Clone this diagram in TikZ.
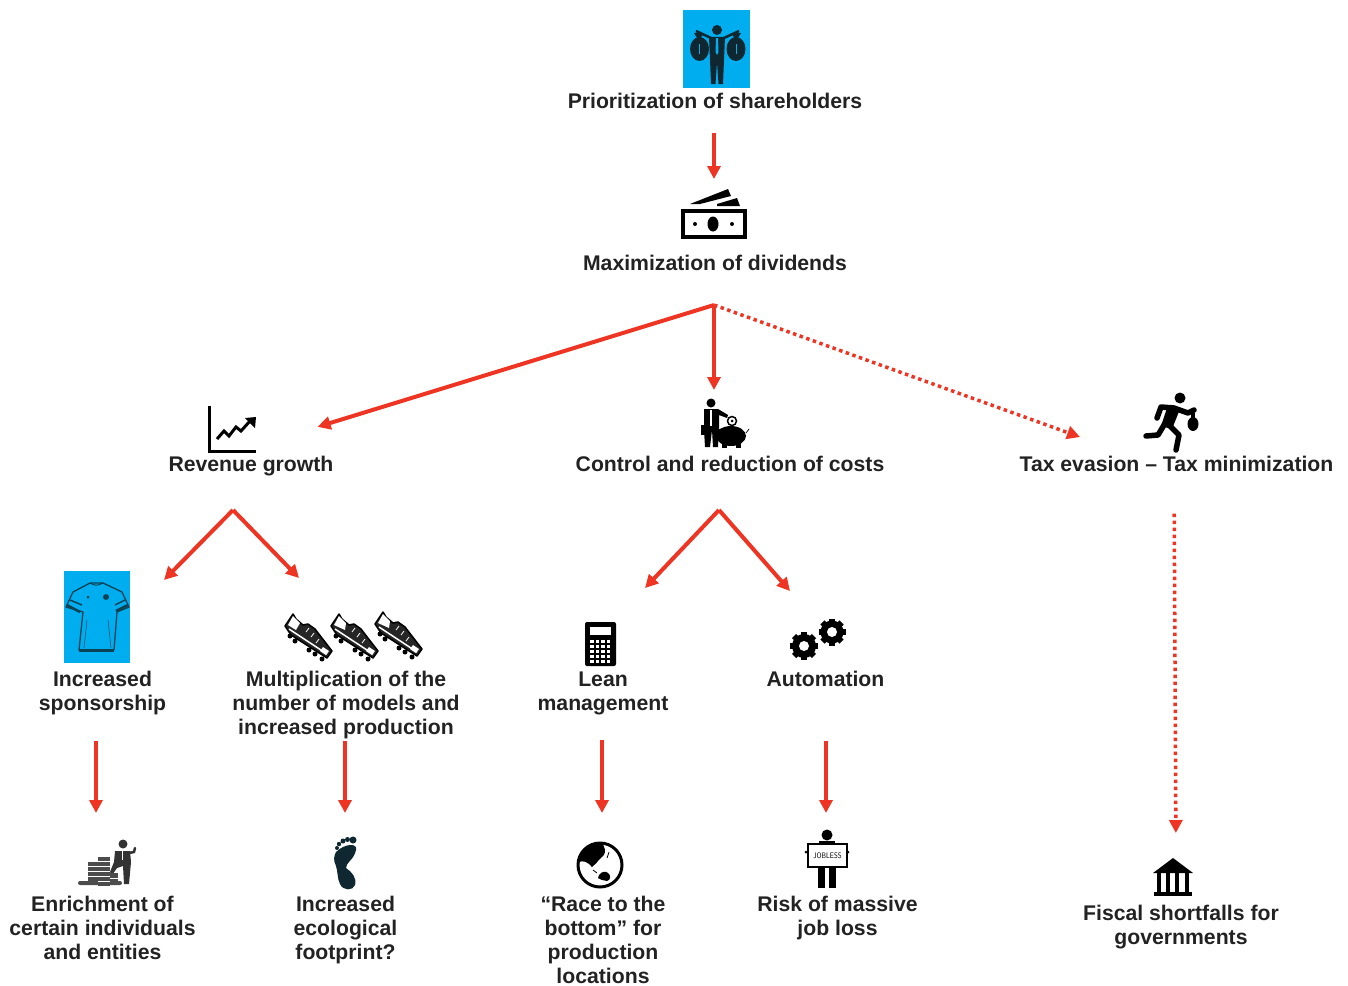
\documentclass[tikz,border=0pt]{standalone}
\usepackage{fontspec}
\setmainfont{Liberation Sans}
\usetikzlibrary{arrows.meta}
\definecolor{arrowred}{HTML}{EE3524}
\definecolor{skyblue}{HTML}{00AEEF}
\definecolor{labelgray}{HTML}{222222}
\definecolor{figdark}{HTML}{0E2730}
\tikzset{>={Triangle[width=13pt,length=13pt]},
	redline/.style={->,color=arrowred,line width=4pt},
	reddots/.style={->,color=arrowred,line width=3.5pt,dash pattern=on 3.5pt off 3.5pt},
	lbl/.style={anchor=north,align=center,inner sep=0pt,outer sep=0pt,text=labelgray,font=\fontsize{21.2}{24}\selectfont\bfseries},
	iconbox/.style={inner sep=0pt,outer sep=0pt}}

\begin{document}
\begin{tikzpicture}[x=1pt,y=-1pt]
	\useasboundingbox (0,0) rectangle (1348,985);

	\node[iconbox,fill=skyblue,minimum width=67pt,minimum height=78pt] (shareicon) at (716.5,49) {};
	\node[iconbox,minimum width=66pt,minimum height=50pt] (moneyicon) at (714,214) {};
	\node[iconbox,minimum width=48pt,minimum height=47pt] (charticon) at (232.5,429.5) {};
	\node[iconbox,minimum width=50pt,minimum height=50pt] (costicon) at (725,423) {};
	\node[iconbox,minimum width=56pt,minimum height=60pt] (runicon) at (1171,422) {};
	\node[iconbox,fill=skyblue,minimum width=66pt,minimum height=92pt] (shirticon) at (97,617) {};
	\node[iconbox,minimum width=137pt,minimum height=48pt] (booticon) at (352,636) {};
	\node[iconbox,minimum width=31pt,minimum height=44pt] (calcicon) at (600.5,644) {};
	\node[iconbox,minimum width=58pt,minimum height=46pt] (gearicon) at (818,639) {};
	\node[iconbox,minimum width=58pt,minimum height=48pt] (coinicon) at (107,862) {};
	\node[iconbox,minimum width=26pt,minimum height=54pt] (footicon) at (345,864) {};
	\node[iconbox,minimum width=48pt,minimum height=48pt] (globeicon) at (600,865) {};
	\node[iconbox,minimum width=40pt,minimum height=60pt] (joblessicon) at (827,859) {};
	\node[iconbox,minimum width=40pt,minimum height=38pt] (bankicon) at (1173,877) {};

	\node[lbl] (shareholders) at (715,93) {Prioritization of shareholders};
	\node[lbl] (dividends) at (715,255) {Maximization of dividends};
	\node[lbl] (revenue) at (251,456) {Revenue growth};
	\node[lbl] (control) at (730,456) {Control and reduction of costs};
	\node[lbl] (tax) at (1176.5,456) {Tax evasion -- Tax minimization};
	\node[lbl] (sponsorship) at (102.5,671) {Increased\\sponsorship};
	\node[lbl] (models) at (346,671) {Multiplication of the\\number of models and\\increased production};
	\node[lbl] (lean) at (603,672) {Lean\\management};
	\node[lbl] (automation) at (825.5,671) {Automation};
	\node[lbl] (enrichment) at (102.5,896) {Enrichment of\\certain individuals\\and entities};
	\node[lbl] (ecological) at (345.5,896) {Increased\\ecological\\footprint?};
	\node[lbl] (race) at (603,896) {“Race to the\\bottom” for\\production\\locations};
	\node[lbl] (jobloss) at (837.5,896) {Risk of massive\\job loss};
	\node[lbl] (fiscal) at (1181,905) {Fiscal shortfalls for\\governments};

	\coordinate (forktop) at (714,305);
	\coordinate (forkrevenue) at (233,510);
	\coordinate (forkcosts) at (719,510);
	\coordinate (taxtip) at (1080,437);
	\coordinate (shirttip) at (164,580);
	\coordinate (boottip) at (299,578);
	\coordinate (calctip) at (645,588);
	\coordinate (geartip) at (790,591);

	\draw[redline,shorten <=24pt,shorten >=10pt] (shareholders.south -| moneyicon.north) -- (moneyicon.north);
	\draw[redline,shorten >=89pt] (forktop) -- (charticon.south);
	\draw[redline,shorten >=8pt] (forktop) -- ([xshift=-11pt]costicon.north);
	\draw[reddots] (forktop) -- (taxtip);
	\draw[redline] (forkrevenue) -- (shirttip);
	\draw[redline] (forkrevenue) -- (boottip);
	\draw[redline] (forkcosts) -- (calctip);
	\draw[redline] (forkcosts) -- (geartip);
	\draw[redline,shorten <=26pt,shorten >=25pt] ([xshift=-6.5pt]sponsorship.south) -- ([xshift=-11pt]coinicon.north);
	\draw[redline,shorten <=2pt,shorten >=24pt] ([xshift=-1pt]models.south) -- (footicon.north);
	\draw[redline,shorten <=25pt,shorten >=28pt] ([xshift=-1pt]lean.south) -- ([xshift=2pt]globeicon.north);
	\draw[redline,shorten <=54pt,shorten >=16pt] ([xshift=.5pt]automation.south) -- ([xshift=-1pt]joblessicon.north);
	\draw[reddots,shorten <=42pt,shorten >=25pt] ([xshift=-2.5pt]tax.south) -- ([xshift=3pt]bankicon.north);

	% shareholder
	\begin{scope}[color=figdark]
		\fill (717,30) circle [radius=5];
		\draw[line width=2.5pt] (696,31)--(711,38)--(724,38)--(739,31);
		\fill (699.5,49) ellipse [x radius=9.5, y radius=12];
		\fill (736,49) ellipse [x radius=9.5, y radius=12];
		\fill (694,33)--(703,33)--(701,38)--(697,38)--cycle;
		\fill (732,33)--(741,33)--(738,38)--(734,38)--cycle;
		\fill (709,37)--(725,37)--(724,60)--(723,84)--(718.5,84)--(717,62)--(715.5,84)--(711,84)--(710,60)--cycle;
		\fill[skyblue] (716,38)--(718,38)--(718.5,52)--(717,55)--(715.5,52)--cycle;
		\draw[skyblue,line width=1pt] (699.5,44)--(699.5,54);
		\draw[skyblue,line width=1pt] (736,44)--(736,54);
	\end{scope}

	% banknotes
	\draw[line width=4pt] (683,210.5) rectangle (745,237);
	\fill (713,224) ellipse [x radius=5.5, y radius=7.5];
	\fill (695,224) circle [radius=2];
	\fill (732,224) circle [radius=2];
	\fill (690,204)--(728,189)--(731,196)--(700,204)--cycle;
	\fill (717,204)--(737,198)--(740,206)--(717,206)--cycle;

	% chart
	\draw[line width=3.5pt] (209.5,406)--(209.5,451.5)--(256,451.5);
	\draw[line width=3pt] (217,439)--(224,431)--(229,436)--(236,427)--(241,431)--(250,421);
	\fill (245,418)--(256,417)--(255,428)--cycle;

	% man with piggy bank
	\fill (711,403) circle [radius=4.5];
	\fill (704,409)--(718,409)--(728,415)--(727,418)--(719,415)--(719,429)--(718,447)--(713,447)--(712,430)--(710,447)--(705,447)--(704,430)--cycle;
	\fill[white] (710,410)--(712,410)--(712,426)--(710,426)--cycle;
	\fill (701,425) rectangle (705,435);
	\fill (731,436) ellipse [x radius=15, y radius=10];
	\fill (717,430)--(723,428)--(723,438)--(716,437)--cycle;
	\fill (722,442) rectangle (727,448);
	\fill (736,442) rectangle (741,448);
	\draw[line width=1.5pt,fill=white] (732,421) circle [radius=4.5];
	\fill (732,421) circle [radius=1.5];
	\draw[line width=.7pt] (746,433)--(749,429);

	% runner
	\fill (1180,398) circle [radius=5.5];
	\draw[line width=5.5pt,line cap=round,line join=round] (1157,418)--(1161,407)--(1174,408)--(1188,413)--(1194,410);
	\fill (1168,405)--(1180,409)--(1172,429)--(1161,426)--cycle;
	\draw[line width=5.5pt,line cap=round,line join=round] (1167,420)--(1158,435)--(1146,436);
	\draw[line width=5.5pt,line cap=round,line join=round] (1168,424)--(1179,435)--(1176,450);
	\fill (1193,424) ellipse [x radius=5.5, y radius=7];
	\fill (1191,413) rectangle (1195,418);

	% shirt
	\begin{scope}[color=figdark!80!skyblue]
		\draw[line width=1.3pt,line join=round] (90,583)--(103,583)--(122,592)--(129,607)--(117,612)--(114,650)--(79,650)--(83,612)--(66,607)--(73,592)--cycle;
		\draw[line width=1pt] (90,583) .. controls (96,586) .. (103,583);
		\draw[line width=2.5pt] (67,605)--(80,612);
		\draw[line width=2.5pt] (128,605)--(116,611);
		\draw[line width=1.5pt] (70,600)--(82,605);
		\draw[line width=1.5pt] (125,600)--(115,605);
		\draw[line width=3pt] (79,650)--(114,650);
		\fill (88,597) circle [radius=1.5];
		\fill (106,597) circle [radius=3];
		\draw[line width=.5pt] (87,620)--(84,648);
		\draw[line width=.5pt] (108,620)--(111,648);
	\end{scope}

	% boots
	\foreach \x/\y/\w in {285/613/4,331/613/7,375/611/7}
	{
		\begin{scope}[shift={(\x,\y)}]
			\draw[fill=black!85,line width=1.5pt,line join=round] (8,1)--(0,13)--(6,22)--(42,45)--(47,38)--(40,29)--(30,16)--(23,11)--(18,12)--(11,6)--cycle;
			\fill[white] (8,3)--(3,12)--(\w+7,17)--(15,10)--cycle;
			\draw[white,line width=1.5pt] (4,16)--(42,41);
			\fill[white] (38,34)--(44,38)--(41,42)--(35,38)--cycle;
			\draw[white,line width=.8pt] (24,15)--(21,19);
			\draw[white,line width=.8pt] (29,20)--(26,24);
			\draw[white,line width=.8pt] (34,26)--(31,30);
			\foreach \sx/\sy in {5/23,10/28,24/37,30/41,37/46}
			\fill (\sx,\sy) circle [radius=2.5];
		\end{scope}
	}

	% calculator
	\fill[rounded corners=2pt] (585,622) rectangle (616,666);
	\fill[white] (590,627) rectangle (611,635);
	\foreach \x in {590,595.5,601,606.5}
	\foreach \y in {640,645,650,655,660}
	\fill[white] (\x,\y) rectangle +(3.8,3.2);

	% gears
	\foreach \gx/\gy/\gr in {804/646/14,832/632/13.5}
	{
		\fill (\gx,\gy) circle [radius=\gr-2];
		\foreach \a in {0,45,135,90}
		\fill[shift={(\gx,\gy)},rotate=\a] (-3,-\gr) rectangle (3,\gr);
		\fill[white] (\gx,\gy) circle [radius=5];
	}

	% coins and man
	\fill[black!80] (123,844) circle [radius=4.5];
	\fill[black!80] (115,851)--(130,851)--(131,862)--(129,884)--(124,884)--(123,866)--(117,868)--(112,875)--(110,872)--(114,862)--cycle;
	\fill[white] (121.5,851) rectangle (123,860);
	\draw[black!80,line width=2.5pt,line cap=round] (129,853)--(134,852)--(135,848);
	\fill[black!70] (88,862) rectangle (98,882);
	\fill[black!70] (98,857) rectangle (110,886);
	\fill[black!70] (110,873) rectangle (118,884);
	\fill[black!70,rounded corners=2pt] (78,881) rectangle (122,885);
	\foreach \y in {866,871,876}
	\draw[white,line width=.4pt] (88,\y)--(98,\y);
	\foreach \y in {861,866,871,876,881}
	\draw[white,line width=.4pt] (98,\y)--(110,\y);
	\foreach \y in {878}
	\draw[white,line width=.4pt] (110,\y)--(118,\y);

	% footprint
	\fill[figdark] (353,840) circle [radius=3.5];
	\fill[figdark] (347.5,839.5) circle [radius=2.5];
	\fill[figdark] (343,841) circle [radius=2.5];
	\fill[figdark] (339,844) circle [radius=2.2];
	\fill[figdark] (337,848) circle [radius=2];
	\fill[figdark] (336,852) .. controls (345,843) and (358,843) .. (356,850) .. controls (354,860) and (346,862) .. (346,868) .. controls (352,872) and (357,878) .. (355,885) .. controls (353,891) and (343,891) .. (340,884) .. controls (337,878) and (338,872) .. (336,866) .. controls (333,860) and (334,856) .. (336,852) -- cycle;

	% globe
	\draw[line width=3pt,fill=white] (600,865) circle [radius=22];
	\fill (600,843) .. controls (588,843) and (580,852) .. (579,862) .. controls (583,860) and (588,862) .. (592,867) .. controls (596,865) and (596,862) .. (602,857) .. controls (605,855) and (606,850) .. (604,847) .. controls (604,845) and (603,843) .. (600,843) -- cycle;
	\fill (599,875) .. controls (602,871) and (606,871) .. (608,873) .. controls (611,875) and (611,880) .. (607,881) .. controls (603,880) and (600,880) .. (598,878) -- cycle;
	\draw[line width=.8pt] (593,870)--(597,873);
	\draw[line width=.8pt] (609,852)--(607,858);

	% jobless
	\fill (827,835) circle [radius=5.5];
	\fill (819,841) rectangle (835,846);
	\draw[fill=white,line width=1.2pt] (808,844) rectangle (847,867);
	\fill (806,852) circle [radius=1.5];
	\fill (848,852) circle [radius=1.5];
	\fill (818,868) rectangle (825,888);
	\fill (829,868) rectangle (836,888);
	\node[inner sep=0pt,font=\fontsize{8}{8}\selectfont\sffamily,xscale=.8] (joblesstag) at (827.5,855.5) {JOBLESS};

	% bank
	\fill (1153,873)--(1173,858)--(1193,873)--cycle;
	\foreach \x in {1157,1166,1175,1185}
	\fill (\x,873) rectangle +(4,19);
	\fill (1154,892) rectangle (1192,896);
\end{tikzpicture}
\end{document}
